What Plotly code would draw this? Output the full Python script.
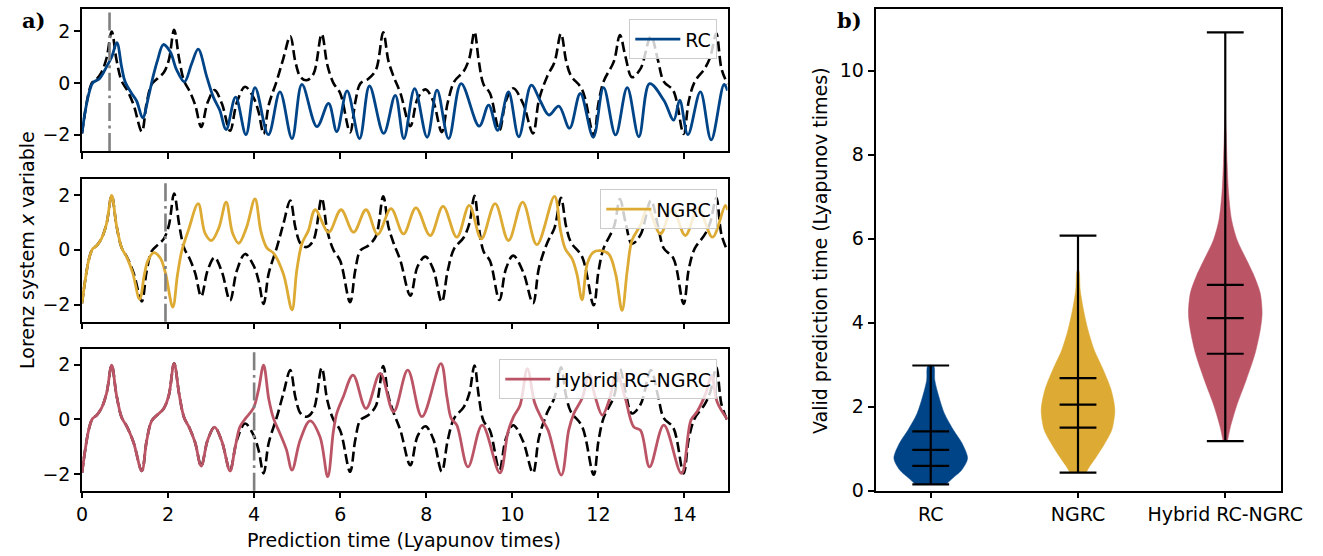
import plotly.graph_objects as go

FONT = "DejaVu Sans"
BLUE, YELLOW, RED = "#004488", "#DDAA33", "#BB5566"
W, H = 1323, 556

# ---------------- time series ----------------
truth_t = [0.00, 0.08, 0.16, 0.24, 0.34, 0.45, 0.57, 0.69, 0.80, 0.92, 1.05, 1.20, 1.39, 1.50, 1.62, 1.76,
           1.90, 2.02, 2.14, 2.26, 2.37, 2.50, 2.63, 2.77, 2.92, 3.08, 3.25, 3.44, 3.60, 3.79, 3.98, 4.10,
           4.22, 4.34, 4.53, 4.68, 4.84, 4.96, 5.08, 5.22, 5.38, 5.57, 5.70, 5.84, 6.00, 6.23, 6.35, 6.47,
           6.65, 6.83, 7.00, 7.12, 7.24, 7.40, 7.63, 7.80, 7.98, 8.16, 8.36, 8.50, 8.65, 8.87, 9.00, 9.12,
           9.22, 9.33, 9.48, 9.70, 9.85, 10.02, 10.25, 10.48, 10.62, 10.81, 10.98, 11.13, 11.25, 11.36,
           11.62, 11.89, 12.00, 12.12, 12.36, 12.50, 12.63, 12.78, 12.98, 13.22, 13.38, 13.52, 13.74,
           13.98, 14.10, 14.24, 14.47, 14.60, 14.74, 14.86, 15.00]
truth_x = [-1.95, -1.05, -0.35, 0.02, 0.15, 0.40, 0.95, 1.98, 0.90, 0.08, -0.28, -0.85, -1.88, -0.80, -0.05, 0.18,
           0.40, 0.90, 2.05, 0.90, 0.08, -0.32, -0.85, -1.70, -0.75, -0.28, -0.80, -1.85, -0.75, -0.15, -0.55, -1.10,
           -1.97, -0.85, 0.10, 0.95, 1.80, 0.80, 0.22, 0.10, 0.35, 1.88, 0.70, 0.00, -0.40, -1.91, -0.75, -0.02,
           0.15, 0.50, 1.95, 0.85, 0.25, -0.40, -1.67, -0.60, -0.25, -0.70, -1.90, -0.75, 0.05, 0.45, 0.95, 1.97,
           0.85, -0.05, -0.40, -1.83, -0.70, -0.21, -0.80, -1.95, -0.65, 0.25, 0.80, 1.90, 0.85, 0.28,
           -0.25, -2.02, -0.80, 0.05, 0.83, 1.85, 1.00, 0.22, 0.55, 1.80, 0.90, 0.05, -0.30,
           -1.97, -0.70, 0.05, 0.55, 1.00, 1.90, 0.55, -0.05]

rc_t = [0.00, 0.08, 0.17, 0.25, 0.41, 0.57, 0.69, 0.81, 0.92, 1.00, 1.15, 1.27, 1.41, 1.55, 1.66, 1.76,
        1.89, 2.05, 2.20, 2.38, 2.55, 2.70, 2.90, 3.05, 3.20, 3.35, 3.57, 3.81, 4.02, 4.33, 4.60, 4.88,
        5.11, 5.46, 5.73, 5.92, 6.16, 6.45, 6.68, 7.01, 7.28, 7.48, 7.73, 8.02, 8.25, 8.52, 8.81, 9.23,
        9.45, 9.66, 9.91, 10.15, 10.44, 10.65, 10.85, 11.08, 11.33, 11.58, 11.88, 12.12, 12.40, 12.67,
        12.94, 13.19, 13.52, 13.75, 13.89, 14.08, 14.37, 14.62, 14.92, 15.00]
rc_x = [-1.95, -1.05, -0.35, 0.00, 0.17, 0.62, 1.00, 1.55, 0.62, 0.05, -0.40, -0.70, -1.35, -0.50, 0.30, 0.90,
        1.48, 1.20, 0.50, 0.04, 0.75, 1.30, 0.23, -0.54, -1.05, -1.80, -0.55, -2.00, -0.18, -2.00, -0.35, -2.15,
        -0.06, -1.69, -0.79, -1.88, -0.31, -2.15, -0.12, -1.95, -0.48, -2.15, -0.22, -2.10, -0.28, -2.15, -0.03, -1.67,
        -0.86, -1.83, -0.35, -2.08, -0.09, -0.70, -1.24, -0.90, -1.75, -0.41, -2.10, -0.18, -2.01, -0.18,
        -2.08, -0.03, -0.67, -1.44, -0.67, -2.00, -0.35, -2.20, -0.06, -0.30]

ngrc_t = [0.00, 0.08, 0.16, 0.24, 0.34, 0.45, 0.57, 0.69, 0.80, 0.92, 1.05, 1.18, 1.34, 1.45, 1.53, 1.67,
          1.82, 1.94, 2.11, 2.22, 2.32, 2.47, 2.70, 2.86, 3.01, 3.18, 3.35, 3.50, 3.64, 3.82, 4.02, 4.16,
          4.30, 4.45, 4.68, 4.88, 4.99, 5.11, 5.26, 5.42, 5.73, 6.02, 6.31, 6.60, 6.87, 7.18, 7.47, 7.76,
          8.09, 8.39, 8.71, 9.00, 9.28, 9.60, 9.91, 10.24, 10.57, 10.98, 11.12, 11.23, 11.39, 11.50, 11.62,
          11.74, 11.88, 12.05, 12.24, 12.40, 12.55, 12.67, 12.78, 12.97, 13.15, 13.44, 13.72, 14.02, 14.32,
          14.65, 14.95, 15.00]
ngrc_x = [-1.95, -1.05, -0.35, 0.02, 0.15, 0.40, 0.95, 1.98, 0.90, 0.08, -0.30, -0.85, -1.80, -0.90, -0.40, -0.10,
          -0.30, -0.85, -2.09, -0.90, -0.03, 0.70, 1.68, 0.60, 0.34, 0.80, 1.74, 0.60, 0.24, 0.80, 1.86, 0.65,
          0.06, -0.12, -0.88, -2.19, -0.76, 0.22, 0.70, 1.46, 0.64, 1.46, 0.64, 1.46, 0.56, 1.50, 0.58, 1.53,
          0.52, 1.58, 0.46, 1.62, 0.40, 1.68, 0.34, 1.74, 0.19, 1.95, 0.70, 0.04, -0.33, -0.88, -1.82,
          -0.51, -0.09, -0.03, -0.15, -0.88, -2.21, -0.76, 0.34, 0.88, 1.50, 0.58, 1.50, 0.52, 1.52,
          0.46, 1.62, 1.45]

hyb_t = [0.00, 0.08, 0.16, 0.24, 0.34, 0.45, 0.57, 0.69, 0.80, 0.92, 1.05, 1.20, 1.39, 1.50, 1.62, 1.76,
         1.90, 2.02, 2.14, 2.26, 2.37, 2.50, 2.63, 2.77, 2.92, 3.08, 3.25, 3.44, 3.55, 3.67, 3.80, 3.98,
         4.10, 4.22, 4.34, 4.45, 4.60, 4.75, 4.88, 5.07, 5.30, 5.53, 5.71, 5.84, 5.92, 6.07, 6.30, 6.60,
         6.93, 7.24, 7.57, 7.90, 8.34, 8.48, 8.58, 8.71, 8.97, 9.30, 9.71, 9.90, 10.03, 10.18, 10.35,
         10.52, 10.68, 10.83, 11.14, 11.31, 11.43, 11.63, 11.78, 11.93, 12.09, 12.25, 12.42, 12.62,
         12.82, 12.98, 13.19, 13.52, 13.93, 14.15, 14.30, 14.50, 14.63, 14.76, 15.00]
hyb_x = [-1.95, -1.05, -0.35, 0.02, 0.15, 0.40, 0.95, 1.98, 0.90, 0.08, -0.28, -0.85, -1.88, -0.80, -0.05, 0.18,
         0.40, 0.90, 2.05, 0.90, 0.08, -0.32, -0.85, -1.70, -0.75, -0.28, -0.80, -1.88, -1.10, -0.27, 0.04, 0.40,
         1.07, 1.98, 0.75, 0.04, -0.51, -1.10, -1.85, -0.75, -0.05, -0.63, -2.09, -0.45, 0.22, 0.82, 1.62, 0.40,
         1.68, 0.28, 1.80, 0.10, 2.04, 0.82, 0.04, -0.21, -1.73, -0.21, -1.95, -0.45, 0.10, 0.52, 1.85,
         0.60, 0.04, -0.39, -2.03, -0.39, 0.22, 0.80, 1.65, 0.80, 0.16, 0.70, 1.70, 0.80,
         -0.27, -0.40, -1.73, -0.21, -1.97, -0.03, 0.30, 0.97, 1.60, 0.64, 0.00]

valid_times = [0.64, 1.94, 4.00]
model_names = ["RC", "NGRC", "Hybrid RC-NGRC"]
model_colors = [BLUE, YELLOW, RED]

# ---------------- violin data ----------------
rc_vy = [0.15, 0.18, 0.30, 0.49, 0.77, 1.13, 1.44, 1.84, 2.24, 2.63, 2.97]
rc_vw = [0.40, 0.45, 0.60, 0.84, 1.00, 0.85, 0.62, 0.37, 0.22, 0.11, 0.08]
ngrc_vy = [0.43, 0.57, 0.81, 1.13, 1.45, 1.92, 2.40, 2.87, 3.35, 3.83, 4.30, 4.78, 5.25]
ngrc_vw = [0.22, 0.31, 0.50, 0.73, 0.92, 1.00, 0.90, 0.69, 0.44, 0.27, 0.15, 0.06, 0.02]
hyb_vy = [1.19, 1.52, 2.00, 2.64, 3.27, 3.83, 4.22, 4.70, 5.10, 5.49, 5.97, 6.45, 7.08, 7.80, 8.75, 9.00]
hyb_vw = [0.06, 0.14, 0.30, 0.57, 0.81, 0.95, 1.00, 0.95, 0.79, 0.58, 0.32, 0.17, 0.09, 0.05, 0.015, 0.0]
v_min = [0.15, 0.43, 1.18]
v_q1 = [0.59, 1.50, 3.26]
v_med = [0.97, 2.05, 4.11]
v_q3 = [1.41, 2.68, 4.90]
v_max = [2.98, 6.07, 10.91]
violin_positions = [1, 2, 3]
VIOLIN_HALF = 0.25
CAP_HALF = 0.125

fig = go.Figure()

series = [(rc_t, rc_x), (ngrc_t, ngrc_x), (hyb_t, hyb_x)]
legend_ids = ["legend", "legend2", "legend3"]
for i, ((tt, xx), name, col) in enumerate(zip(series, model_names, model_colors)):
    xa = "x" if i == 0 else f"x{i+1}"
    ya = "y" if i == 0 else f"y{i+1}"
    fig.add_trace(go.Scatter(x=truth_t, y=truth_x, mode="lines", xaxis=xa, yaxis=ya, showlegend=False,
                             line=dict(color="black", width=2.6, dash="10px,4.5px", shape="spline", smoothing=1.0),
                             hoverinfo="skip"))
    fig.add_trace(go.Scatter(x=tt, y=xx, mode="lines", xaxis=xa, yaxis=ya, name=name, legend=legend_ids[i],
                             line=dict(color=col, width=2.8, shape="spline", smoothing=1.0)))
    fig.add_shape(type="line", xref=xa, yref=f"{ya} domain", x0=valid_times[i], x1=valid_times[i], y0=0, y1=1,
                  line=dict(color="#808080", width=2.6, dash="18px,4.6px,2.9px,4.6px"), layer="above")

# violins
for pos, vy, vw, col in zip(violin_positions, [rc_vy, ngrc_vy, hyb_vy], [rc_vw, ngrc_vw, hyb_vw], model_colors):
    xs = [pos + VIOLIN_HALF * w for w in vw] + [pos - VIOLIN_HALF * w for w in reversed(vw)]
    ys = list(vy) + list(reversed(vy))
    fig.add_trace(go.Scatter(x=xs, y=ys, mode="lines", fill="toself", fillcolor=col,
                             line=dict(color=col, width=0.5, shape="spline", smoothing=0.8),
                             xaxis="x4", yaxis="y4", showlegend=False, hoverinfo="skip"))

sx, sy = [], []
for k, pos in enumerate(violin_positions):
    sx += [pos, pos, None]
    sy += [v_min[k], v_max[k], None]
    for v in (v_min[k], v_q1[k], v_med[k], v_q3[k], v_max[k]):
        sx += [pos - CAP_HALF, pos + CAP_HALF, None]
        sy += [v, v, None]
fig.add_trace(go.Scatter(x=sx, y=sy, mode="lines", line=dict(color="black", width=2.2),
                         xaxis="x4", yaxis="y4", showlegend=False, hoverinfo="skip"))

# ---------------- layout ----------------
def px_x(p):
    return p / W

def px_y(p):
    return 1 - p / H

axis_common = dict(showline=True, linecolor="black", linewidth=1.5, mirror=True, ticks="outside",
                   ticklen=6, tickwidth=1.5, tickcolor="black", showgrid=False, zeroline=False,
                   automargin=False, tickfont=dict(family=FONT, size=19, color="black"))

left_dom = [px_x(82), px_x(727.5)]
panel_px = [(9.3, 151.0), (179.3, 321.7), (349.3, 490.7)]
y_ranges = [[-2.63, 2.84], [-2.62, 2.57], [-2.60, 2.56]]

layout = dict(width=W, height=H, autosize=False, margin=dict(l=0, r=0, t=0, b=0, pad=0),
              paper_bgcolor="white", plot_bgcolor="white", font=dict(family=FONT, size=19, color="black"))
for i in range(3):
    xk = "xaxis" if i == 0 else f"xaxis{i+1}"
    yk = "yaxis" if i == 0 else f"yaxis{i+1}"
    anchor_y = "y" if i == 0 else f"y{i+1}"
    anchor_x = "x" if i == 0 else f"x{i+1}"
    top, bot = panel_px[i]
    layout[xk] = dict(axis_common, domain=left_dom, range=[0, 15], tickvals=list(range(0, 15, 2)),
                      showticklabels=(i == 2), anchor=anchor_y)
    layout[yk] = dict(axis_common, domain=[px_y(bot), px_y(top)], range=y_ranges[i], tickvals=[-2, 0, 2],
                      anchor=anchor_x)

layout["xaxis4"] = dict(axis_common, domain=[px_x(875.5), px_x(1280.5)], range=[0.625, 3.375],
                        tickvals=violin_positions, ticktext=model_names, anchor="y4")
layout["yaxis4"] = dict(axis_common, domain=[px_y(490.7), px_y(9.3)], range=[0, 11.46],
                        tickvals=[0, 2, 4, 6, 8, 10], anchor="x4")

legend_common = dict(xref="paper", yref="paper", xanchor="right", yanchor="top",
                     bgcolor="rgba(255,255,255,0.8)", bordercolor="#cccccc", borderwidth=1,
                     itemwidth=45, font=dict(family=FONT, size=19, color="black"), tracegroupgap=0)
layout["legend"] = dict(legend_common, x=px_x(717.3), y=px_y(19.3))
layout["legend2"] = dict(legend_common, x=px_x(717.3), y=px_y(189.3))
layout["legend3"] = dict(legend_common, x=px_x(717.3), y=px_y(359.3))

ann_common = dict(xref="paper", yref="paper", showarrow=False, xanchor="center", yanchor="middle")
layout["annotations"] = [
    dict(ann_common, text="<b>a)</b>", x=px_x(34), y=px_y(20),
         font=dict(family="DejaVu Serif", size=21, color="black")),
    dict(ann_common, text="<b>b)</b>", x=px_x(850), y=px_y(20),
         font=dict(family="DejaVu Serif", size=21, color="black")),
    dict(ann_common, text="Lorenz system <i>x</i> variable", x=px_x(27), y=px_y(250), textangle=-90,
         font=dict(family=FONT, size=19, color="black")),
    dict(ann_common, text="Prediction time (Lyapunov times)", x=px_x(404), y=px_y(540),
         font=dict(family=FONT, size=19, color="black")),
    dict(ann_common, text="Valid prediction time (Lyapunov times)", x=px_x(820), y=px_y(251), textangle=-90,
         font=dict(family=FONT, size=19, color="black")),
]

fig.update_layout(layout)
fig.write_html("out.html", config={"displayModeBar": False},
               post_script="document.body.style.margin='0';document.body.style.padding='0';")
